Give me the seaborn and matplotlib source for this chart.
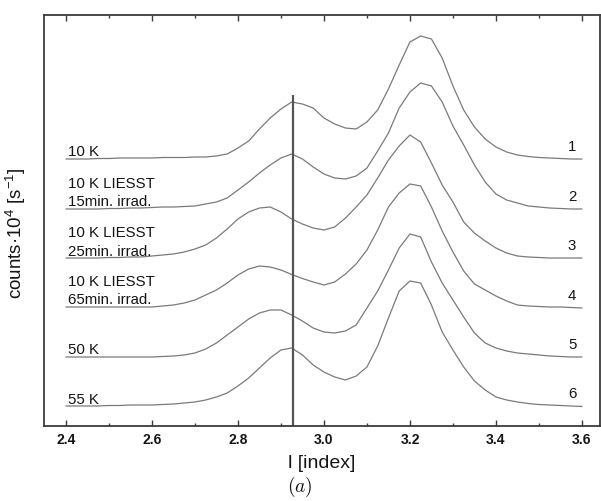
import numpy as np
import pandas as pd
import matplotlib
matplotlib.use("Agg")
import matplotlib.pyplot as plt
import seaborn as sns

# ---------------- data ----------------
l_index = [2.400, 2.425, 2.450, 2.475, 2.500, 2.525, 2.550, 2.575, 2.600,
           2.625, 2.650, 2.675, 2.700, 2.725, 2.750, 2.775, 2.800, 2.825,
           2.850, 2.875, 2.900, 2.925, 2.950, 2.975, 3.000, 3.025, 3.050,
           3.075, 3.100, 3.125, 3.150, 3.175, 3.200, 3.225, 3.250, 3.275,
           3.300, 3.325, 3.350, 3.375, 3.400, 3.425, 3.450, 3.475, 3.500,
           3.525, 3.550, 3.575, 3.600]

# stacked counts (arbitrary units, curves already offset as in the figure)
curve_1 = [267, 267, 267, 267.5, 267.5, 268, 268, 268, 268, 268.5, 268.5, 268.5, 269,
           269, 270, 272, 278, 285, 297, 308, 317, 324, 322,
           318, 308, 302, 298, 297, 304, 316, 337, 361, 384,
           390, 387, 368, 340, 316, 299, 287, 279, 274, 271,
           269.5, 268.5, 268, 267.5, 267, 267]
curve_2 = [217, 217, 217, 217, 217.5, 217.5, 218, 218, 218.5, 219, 219, 219.5, 220,
           222, 224, 228, 236, 244, 253, 261, 268, 272, 267,
           259, 252, 248, 247, 250, 258, 275, 293, 318, 334,
           343, 340, 324, 300, 281, 261, 244, 232, 226, 223,
           220, 219, 218, 217.5, 217, 217]
curve_3 = [168, 168, 168, 168, 168.5, 168.5, 169, 169, 170, 171, 172, 174, 177,
           181, 188, 197, 207, 214, 218, 219, 214, 207, 202,
           198, 196, 199, 208, 219, 231, 248, 266, 280, 291,
           284, 263, 241, 224, 204, 193, 185, 178, 173, 170,
           169, 168.5, 168, 168, 168, 168]
curve_4 = [119, 119, 119, 119, 119, 119, 119, 119, 119, 120, 121, 123, 126,
           131, 136, 143, 151, 157, 160, 159, 156, 151.5, 147.5,
           144, 141, 144, 152, 162, 176, 196, 219, 233, 242,
           240, 219, 195, 174, 155, 142, 136, 130, 125, 121,
           120, 119.5, 119, 119, 118.5, 118]
curve_5 = [69, 69, 69, 69, 69, 69, 69, 69, 69, 69.5, 70, 71, 73,
           77, 83, 91, 99, 107, 113, 116, 116, 111, 105,
           98, 94, 93, 95, 101, 118, 135, 156, 178, 192,
           189, 164, 143, 126, 109, 93, 83, 78, 75, 73,
           72, 71, 70, 69.5, 69, 69]
curve_6 = [20, 20, 20, 20, 20.5, 20.5, 21, 21, 21, 21.5, 22, 23, 24,
           26, 29, 33, 40, 48, 58, 68, 76, 78, 71,
           61, 54, 49, 46, 50, 59, 80, 108, 135, 145,
           143, 121, 94, 76, 59, 45, 36, 29, 26, 24,
           22.5, 21.5, 21, 20.5, 20, 19.5]

curves = [curve_1, curve_2, curve_3, curve_4, curve_5, curve_6]
curve_labels = [["10 K"],
                ["10 K LIESST", "15min. irrad."],
                ["10 K LIESST", "25min. irrad."],
                ["10 K LIESST", "65min. irrad."],
                ["50 K"],
                ["55 K"]]
curve_numbers = ["1", "2", "3", "4", "5", "6"]

tick_values = [2.4, 2.6, 2.8, 3.0, 3.2, 3.4, 3.6]
tick_labels = ["2.4", "2.6", "2.8", "3.0", "3.2", "3.4", "3.6"]
minor_tick_values = [2.5, 2.7, 2.9, 3.1, 3.3, 3.5]

reference_l = 2.928      # vertical marker line
reference_top = 331      # its upper end (counts units)

# ---------------- style ----------------
sns.set_style("white")
plt.rcParams["font.family"] = ["Liberation Sans", "DejaVu Sans"]
plt.rcParams["mathtext.fontset"] = "custom"
plt.rcParams["mathtext.rm"] = "Liberation Sans"
plt.rcParams["mathtext.it"] = "Liberation Sans:italic"
plt.rcParams["mathtext.bf"] = "Liberation Sans:bold"

line_color = "#7a7a7a"
frame_color = "#3c3c3c"
text_color = "#151515"

fig = plt.figure(figsize=(6.01, 5.01), dpi=100)
ax = fig.add_axes([44 / 601, 75 / 501, 556 / 601, 411 / 501])

rows = []
for i, c in enumerate(curves):
    for x, y in zip(l_index, c):
        rows.append({"l": x, "counts": y, "curve": i + 1})
df = pd.DataFrame(rows)

sns.lineplot(data=df, x="l", y="counts", units="curve", estimator=None,
             color=line_color, linewidth=0.9, ax=ax, legend=False)

ax.vlines(reference_l, 0, reference_top, color="#555555", linewidth=1.6)

# labels on the left and numbers on the right
for c, lab, num in zip(curves, curve_labels, curve_numbers):
    base = c[0]
    for k, line in enumerate(reversed(lab)):
        ax.text(2.405, base + 2.5 + 18.5 * k, line, fontsize=10.8,
                color=text_color, ha="left", va="baseline")
    ax.text(3.577, c[-1] + 8, num, fontsize=10.8, color=text_color,
            ha="center", va="baseline")

ax.set_xlim(2.349, 3.642)
ax.set_ylim(0, 411)
ax.set_yticks([])
ax.set_xticks(tick_values)
ax.set_xticklabels(tick_labels, fontweight="bold", fontsize=10, color=text_color)
ax.set_xticks(minor_tick_values, minor=True)
ax.tick_params(axis="x", which="both", direction="in", top=True, bottom=True,
               color=frame_color, width=1.0, pad=5)
ax.tick_params(axis="x", which="major", length=4)
ax.tick_params(axis="x", which="minor", length=2.5)
for s in ax.spines.values():
    s.set_visible(True)
    s.set_color(frame_color)
    s.set_linewidth(1.3)

ax.set_xlabel("l [index]", fontsize=14, color=text_color, labelpad=6)
ax.set_ylabel("counts·10$^{4}$ [s$^{-1}$]", fontsize=13.5, color=text_color)
ax.yaxis.set_label_coords(-0.028, 0.47)

fig.text(300 / 601, 1 - 487 / 501, "$(a)$", fontsize=14, ha="center",
         va="center", color=text_color, math_fontfamily="cm")

fig.savefig("out.png", dpi=100)
